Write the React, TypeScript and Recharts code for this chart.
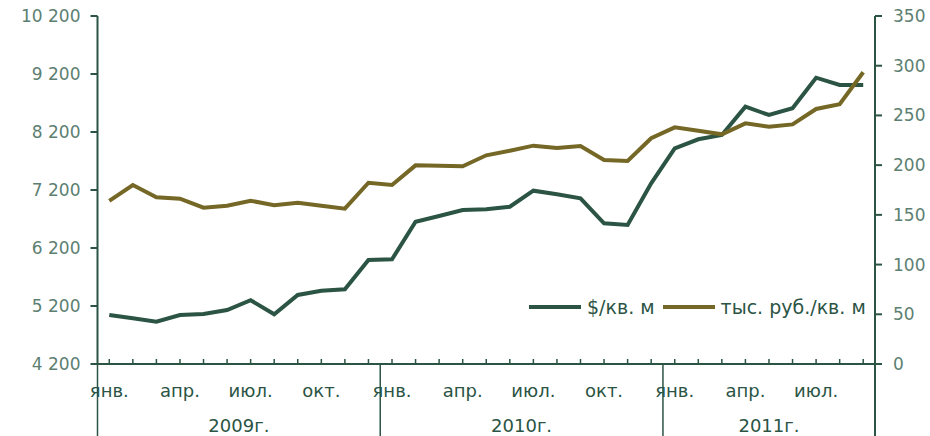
import { ComposedChart, Line, XAxis, YAxis } from "recharts";

const months = [
  "янв.", "фев.", "мар.", "апр.", "май", "июн.", "июл.", "авг.", "сен.", "окт.", "ноя.", "дек.",
  "янв.", "фев.", "мар.", "апр.", "май", "июн.", "июл.", "авг.", "сен.", "окт.", "ноя.", "дек.",
  "янв.", "фев.", "мар.", "апр.", "май", "июн.", "июл.", "авг.", "сен.",
];
const years = [
  { label: "2009г.", from: 0, to: 11 },
  { label: "2010г.", from: 12, to: 23 },
  { label: "2011г.", from: 24, to: 32 },
];
const usdPerSqm = [
  5045, 4990, 4930, 5045, 5062, 5130, 5300, 5057, 5390, 5464, 5488, 5993,
  6005, 6653, 6752, 6855, 6867, 6912, 7188, 7126, 7057, 6626, 6597, 7316,
  7919, 8074, 8148, 8636, 8493, 8609, 9136, 9010, 9010,
];
const rubPerSqm = [
  164, 180, 167.7, 166.3, 157.2, 159.2, 164.2, 159.6, 162.2, 159.2, 156.2, 182.3,
  180, 199.8, 199.5, 198.8, 209.9, 214.5, 219.6, 217.2, 219.2, 205.2, 204.2, 227,
  238, 234.6, 231, 242, 238.7, 241, 256.5, 261.2, 293.4,
];
const leftTicks = [4200, 5200, 6200, 7200, 8200, 9200, 10200];
const rightTicks = [0, 50, 100, 150, 200, 250, 300, 350];

const data = months.map((m, i) => ({ idx: i, month: m, usd: usdPerSqm[i], rub: rubPerSqm[i] }));

const DARK = "#2b5444";
const OLIVE = "#756726";
const TICK_TXT = "#5d7f72";
const FONT = "DejaVu Sans, Verdana, sans-serif";

const W = 930;
const H = 436;
const LEFT = 97.5;
const RIGHT = 875;
const BOTTOM = 364;
const BAND = (RIGHT - LEFT) / months.length;

const fmt = (v: number) => String(v).replace(/\B(?=(\d{3})+(?!\d))/g, " ");

function MonthTick(props: any) {
  const { x, y, payload } = props;
  const i = payload.index;
  const parts = [];
  parts.push(<line key="t" x1={x} x2={x} y1={y - 5} y2={y} stroke={DARK} strokeWidth={1.5} />);
  if (i % 3 === 0) {
    parts.push(
      <text key="m" x={x} y={y + 33} textAnchor="middle" fill={DARK} fontSize={18} fontFamily={FONT}>
        {months[i]}
      </text>
    );
  }
  years.forEach((yr) => {
    if (yr.from === i) {
      parts.push(<line key="s" x1={x - BAND / 2} x2={x - BAND / 2} y1={y} y2={H} stroke={DARK} strokeWidth={1.5} />);
    }
    if (yr.to === i && i === months.length - 1) {
      parts.push(<line key="e" x1={x + BAND / 2} x2={x + BAND / 2} y1={y} y2={H} stroke={DARK} strokeWidth={2} />);
    }
    if (Math.floor((yr.from + yr.to) / 2) === i) {
      const off = (yr.to - yr.from) % 2 === 1 ? BAND / 2 : 0;
      parts.push(
        <text key="y" x={x + off} y={y + 68} textAnchor="middle" fill={DARK} fontSize={18} fontFamily={FONT}>
          {yr.label}
        </text>
      );
    }
  });
  return <g>{parts}</g>;
}

function LegendBox() {
  const item = (color: string, label: string) => (
    <div style={{ display: "flex", alignItems: "center", marginRight: 8 }}>
      <div style={{ width: 52, height: 4, background: color, marginRight: 6 }} />
      <span style={{ color: DARK, fontSize: 19, fontFamily: FONT }}>{label}</span>
    </div>
  );
  return (
    <div style={{ position: "absolute", left: 529, top: 296, display: "flex", alignItems: "center" }}>
      {item(DARK, "$/кв. м")}
      {item(OLIVE, "тыс. руб./кв. м")}
    </div>
  );
}

export default function App() {
  return (
    <div style={{ position: "absolute", left: 0, top: 0, width: W, height: H, background: "#fff" }}>
      <ComposedChart
        width={W}
        height={H}
        data={data}
        margin={{ top: 16, right: 0, left: 0, bottom: 0 }}
      >
        <XAxis
          dataKey="idx"
          type="category"
          scale="band"
          height={H - BOTTOM}
          interval={0}
          tickSize={0}
          tickMargin={0}
          tickLine={false}
          axisLine={{ stroke: DARK, strokeWidth: 2 }}
          tick={<MonthTick />}
        />
        <YAxis
          yAxisId="l"
          orientation="left"
          width={LEFT}
          domain={[4200, 10200]}
          ticks={leftTicks}
          tickFormatter={fmt}
          tickSize={7}
          tickMargin={10}
          axisLine={{ stroke: DARK, strokeWidth: 2 }}
          tickLine={{ stroke: DARK, strokeWidth: 2 }}
          tick={{ fill: TICK_TXT, fontSize: 17, fontFamily: FONT }}
        />
        <YAxis
          yAxisId="r"
          orientation="right"
          width={W - RIGHT}
          domain={[0, 350]}
          ticks={rightTicks}
          tickSize={7}
          tickMargin={11}
          axisLine={{ stroke: DARK, strokeWidth: 2 }}
          tickLine={{ stroke: DARK, strokeWidth: 2 }}
          tick={{ fill: TICK_TXT, fontSize: 17, fontFamily: FONT, textAnchor: "start" }}
        />
        <Line
          yAxisId="l"
          dataKey="usd"
          name="$/кв. м"
          stroke={DARK}
          strokeWidth={4}
          dot={false}
          isAnimationActive={false}
        />
        <Line
          yAxisId="r"
          dataKey="rub"
          name="тыс. руб./кв. м"
          stroke={OLIVE}
          strokeWidth={4}
          dot={false}
          isAnimationActive={false}
        />
      </ComposedChart>
      <LegendBox />
    </div>
  );
}
